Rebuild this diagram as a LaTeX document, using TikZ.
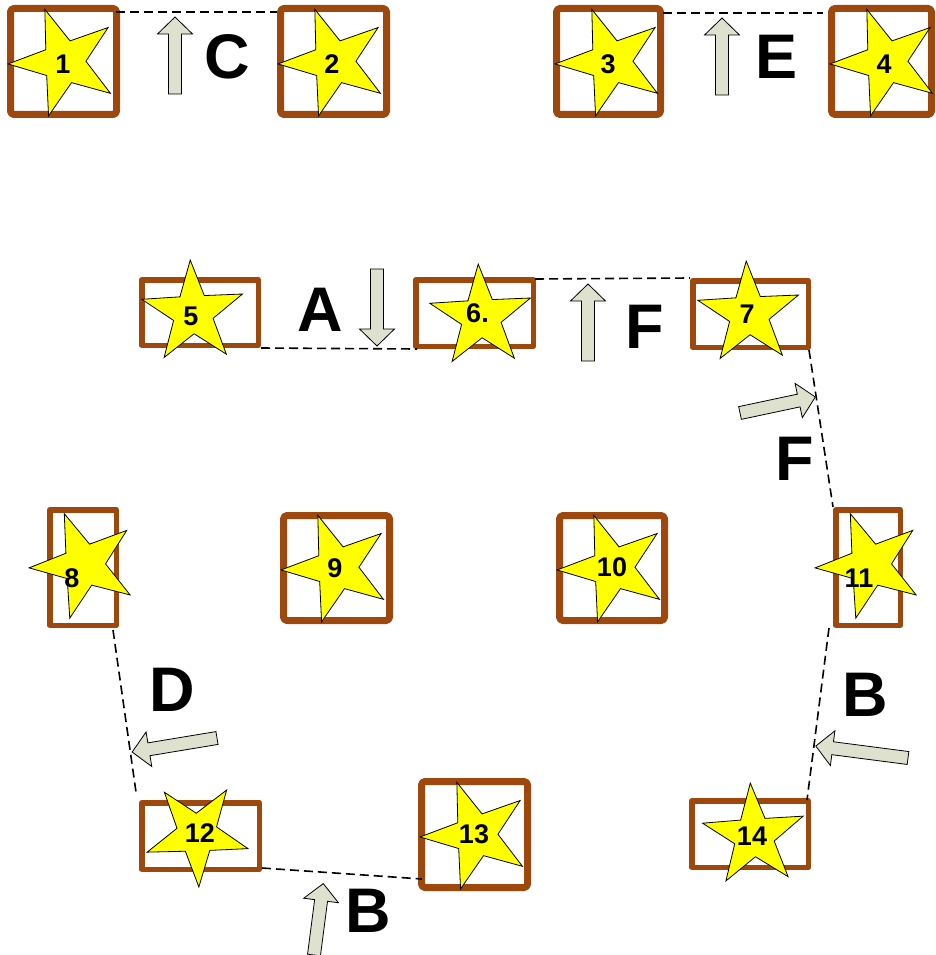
\documentclass[tikz,border=0pt]{standalone}
\usepackage{fontspec}
\setmainfont{Liberation Sans}
\usetikzlibrary{shapes.geometric,shapes.misc}
\definecolor{boxbrown}{RGB}{158,72,14}
\definecolor{arrowgray}{RGB}{221,225,205}
\definecolor{staryellow}{RGB}{255,255,0}
\tikzset{
  sqbox/.style={rectangle, rounded corners=3.5pt,
    draw=boxbrown, line width=7pt, inner sep=0pt, line join=bevel},
  recbox/.style={rectangle, draw=boxbrown, line width=5.5pt, inner sep=0pt, line join=round},
  yelstar/.style={star, star points=5, star point ratio=2.55, inner sep=0pt, draw=black,
    line width=0.8pt, fill=staryellow, minimum size=#1},
  numtxt/.style={inner sep=0pt, font=\fontsize{27}{27}\selectfont\bfseries},
  bigtxt/.style={inner sep=0pt, font=\fontsize{63}{63}\selectfont\bfseries},
  dashline/.style={draw=black, line width=1.6pt, dash pattern=on 9pt off 5pt},
  arrowsty/.style={draw=black, line width=0.8pt, fill=arrowgray, line join=miter},
  pics/barrow/.style={code={
    \path[arrowsty] (0,-6.5) -- (#1-17,-6.5) -- (#1-17,-17.5) -- (#1,0) -- (#1-17,17.5)
      -- (#1-17,6.5) -- (0,6.5) -- cycle;}}
}
\begin{document}
\begin{tikzpicture}[x=1pt,y=-1pt]
\useasboundingbox[fill=white] (0,0) rectangle (936,955);
% boxes
\node[sqbox, minimum width=106pt, minimum height=106pt] (b1) at (63.5,61.5) {};
\node[sqbox, minimum width=106pt, minimum height=106pt] (b2) at (333.5,61.5) {};
\node[sqbox, minimum width=104pt, minimum height=106pt] (b3) at (608.5,61.5) {};
\node[sqbox, minimum width=100pt, minimum height=106pt] (b4) at (881.5,61.5) {};
\node[recbox, minimum width=116.5pt, minimum height=65.5pt] (b5) at (200,312.5) {};
\node[recbox, minimum width=117.5pt, minimum height=66.5pt] (b6) at (474.5,313) {};
\node[recbox, minimum width=115.5pt, minimum height=66.5pt] (b7) at (750.5,314) {};
\node[recbox, minimum width=66.5pt, minimum height=115.5pt] (b8) at (83,567.5) {};
\node[sqbox, minimum width=106pt, minimum height=105pt] (b9) at (336.5,568) {};
\node[sqbox, minimum width=105pt, minimum height=105pt] (b10) at (612,568) {};
\node[recbox, minimum width=64.5pt, minimum height=115.5pt] (b11) at (868,567.5) {};
\node[recbox, minimum width=117.5pt, minimum height=66.5pt] (b12) at (200.5,836) {};
\node[sqbox, minimum width=106pt, minimum height=106pt] (b13) at (474.5,834.5) {};
\node[recbox, minimum width=116.5pt, minimum height=66.5pt] (b14) at (750,834) {};
% dashed connectors
\draw[dashline] ([xshift=-4pt,yshift=49.5pt]b1.east) -- ([yshift=49.5pt]b2.west);
\draw[dashline] ([xshift=-1pt,yshift=48.5pt]b3.east) -- ([xshift=-5pt,yshift=48.5pt]b4.west);
\draw[dashline] (b5.south east) -- ([xshift=4pt]b6.south west);
\draw[dashline] ([xshift=-1pt,yshift=-2pt]b6.north east) -- (b7.north west);
\draw[dashline] ([xshift=-2pt]b7.south east) -- (b11.north west);
\draw[dashline] ([xshift=-4pt]b11.south west) -- ([xshift=-4pt,yshift=-2pt]b14.north east);
\draw[dashline] ([xshift=-6pt,yshift=-2pt]b8.south east) -- ([xshift=-3pt,yshift=8pt]b12.north west);
\draw[dashline] ([yshift=4pt]b12.south east) -- ([xshift=-52.5pt,yshift=12pt]b13.south);
% stars
\node[yelstar=112pt, rotate=20] (s1) at (64,62) {};
\node[yelstar=112pt, rotate=20] (s2) at (334,62) {};
\node[yelstar=112pt, rotate=20] (s3) at (611,62) {};
\node[yelstar=112pt, rotate=20] (s4) at (886,62) {};
\node[yelstar=106pt, rotate=3] (s5) at (193,313) {};
\node[yelstar=106pt, rotate=3] (s6) at (481,317) {};
\node[yelstar=106pt, rotate=3] (s7) at (749,314) {};
\node[yelstar=110pt, rotate=21] (s8) at (84,565) {};
\node[yelstar=112pt, rotate=20] (s9) at (337,568) {};
\node[yelstar=112pt, rotate=20] (s10) at (613,568) {};
\node[yelstar=110pt, rotate=21] (s11) at (870,565) {};
\node[yelstar=106pt, rotate=38] (s12) at (197,834) {};
\node[yelstar=112pt, rotate=20] (s13) at (476,835) {};
\node[yelstar=106pt, rotate=4] (s14) at (754,836) {};
% numbers
\node[numtxt] (n1) at (63,64) {1};
\node[numtxt] (n2) at (332,64) {2};
\node[numtxt] (n3) at (608,64) {3};
\node[numtxt] (n4) at (884,64) {4};
\node[numtxt] (n5) at (191,316) {5};
\node[numtxt] (n6) at (477.5,313) {6.};
\node[numtxt] (n7) at (747,314) {7};
\node[numtxt] (n8) at (72,578) {8};
\node[numtxt] (n9) at (335,568) {9};
\node[numtxt] (n10) at (612,567) {10};
\node[numtxt] (n11) at (859,578) {11};
\node[numtxt] (n12) at (200,833) {12};
\node[numtxt] (n13) at (474,834) {13};
\node[numtxt] (n14) at (752,836) {14};
% block arrows
\pic[rotate=90] at (175,94) {barrow=77};
\pic[rotate=90] at (722,95) {barrow=77};
\pic[rotate=-90] at (377,269) {barrow=77};
\pic[rotate=90] at (588,361) {barrow=77};
\pic[rotate=12] at (740,413) {barrow=77};
\pic[rotate=172.6] at (908,758) {barrow=93};
\pic[rotate=189.4] at (217,738) {barrow=86};
\pic[rotate=82.6] at (314,955) {barrow=72};
% letters
\node[bigtxt] (lc) at (227,57) {C};
\node[bigtxt] (le) at (776,57) {E};
\node[bigtxt] (la) at (320,310) {A};
\node[bigtxt] (lf1) at (645,327) {F};
\node[bigtxt] (lf2) at (795,459) {F};
\node[bigtxt] (ld) at (172,690) {D};
\node[bigtxt] (lb1) at (865,695) {B};
\node[bigtxt] (lb2) at (368,911) {B};
\end{tikzpicture}
\end{document}
